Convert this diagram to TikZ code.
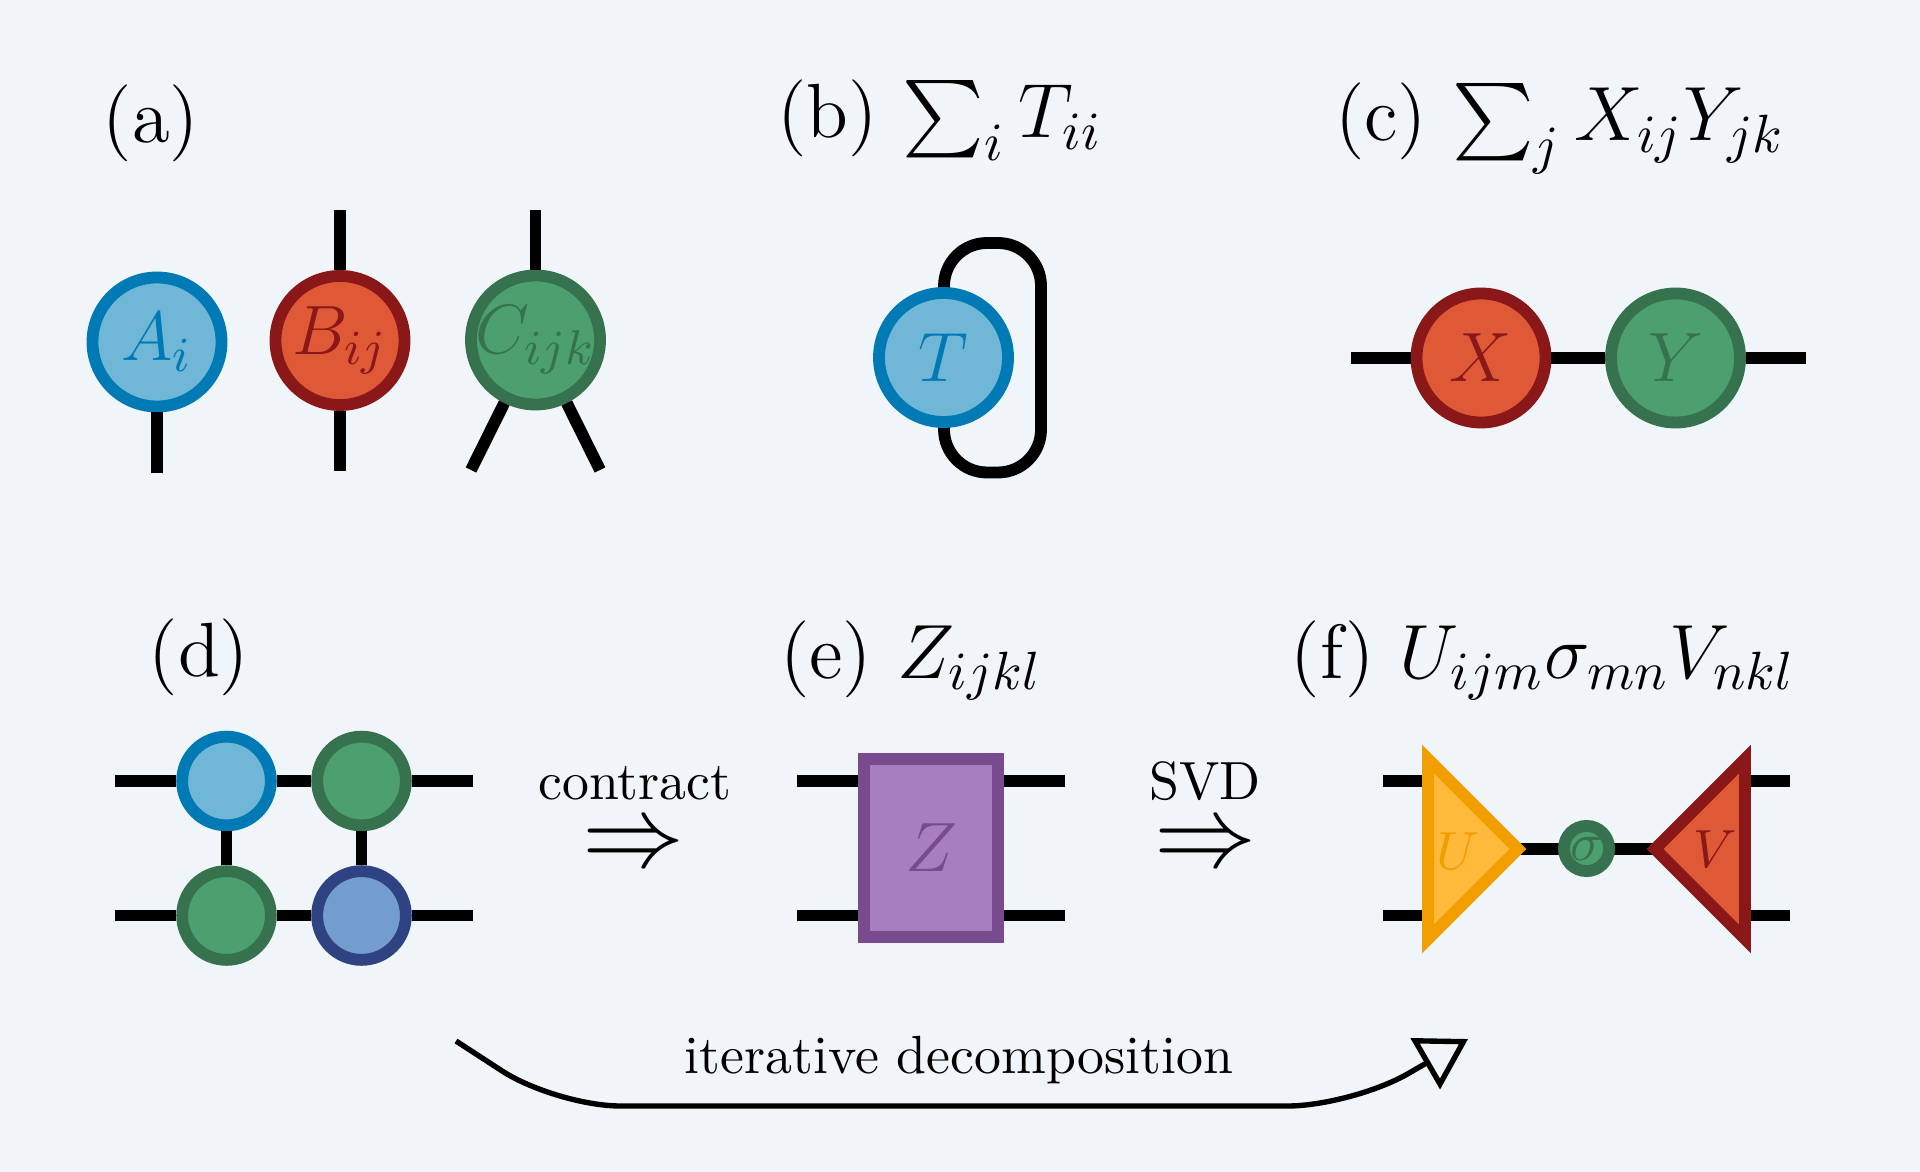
\RequirePackage{fix-cm}
\documentclass[tikz,border=0pt]{standalone}
\usepackage{amsmath}
\usepackage{fontspec}
\usetikzlibrary{arrows.meta}
\definecolor{bg}{HTML}{F0F5FA}
\definecolor{blueF}{HTML}{70B6D6}
\definecolor{blueD}{HTML}{007AB5}
\definecolor{redF}{HTML}{DF5937}
\definecolor{redD}{HTML}{8B1818}
\definecolor{greenF}{HTML}{4C9F6F}
\definecolor{greenD}{HTML}{37724E}
\definecolor{navyF}{HTML}{729DCE}
\definecolor{navyD}{HTML}{2F4282}
\definecolor{purpF}{HTML}{A87FBE}
\definecolor{purpD}{HTML}{784A8E}
\definecolor{orangeF}{HTML}{FFBA3C}
\definecolor{orangeD}{HTML}{F29D00}
\tikzset{
  leg/.style={line width=2.2pt, draw=black},
  tn/.style={circle, line width=2.2pt, inner sep=0pt, minimum size=24pt},
  sn/.style={circle, line width=2.2pt, inner sep=0pt, minimum size=16.5pt},
  titletext/.style={anchor=base, inner sep=0pt, font=\fontsize{14.3}{17}\selectfont},
  lab/.style={inner sep=0pt, font=\fontsize{13}{16}\selectfont},
  smalllab/.style={inner sep=0pt, font=\fontsize{10}{12}\selectfont},
  bodytext/.style={anchor=base, inner sep=0pt, font=\fontsize{10}{12}\selectfont},
  bigarrow/.style={inner sep=0pt, text height=8pt, text depth=0pt, font=\fontsize{19}{22}\selectfont},
  tri/.style={line width=2.2pt, line join=miter},
}
\begin{document}
\begin{tikzpicture}[x=0.186pt, y=-0.186pt]
\fill[bg] (0,0) rectangle (1920,1172);
\useasboundingbox (0,0) rectangle (1920,1172);

% ---------- titles ----------
\node[titletext] (ta) at (151,143) {(a)};
\node[titletext] (tb) at (940,138) {(b) $\sum_i T_{ii}$};
\node[titletext] (tc) at (1560,141) {(c) $\sum_j X_{ij}Y_{jk}$};
\node[titletext] (td) at (199,677) {(d)};
\node[titletext] (te) at (911,678) {(e) $Z_{ijkl}$};
\node[titletext] (tf) at (1543,678) {(f) $U_{ijm}\sigma_{mn}V_{nkl}$};

% ---------- (a) ----------
\node[tn, draw=blueD, fill=blueF] (A) at (157,342) {};
\node[tn, draw=redD, fill=redF] (B) at (340,340.5) {};
\node[tn, draw=greenD, fill=greenF] (C) at (535.5,340) {};
\coordinate (Ab) at (157,473);
\coordinate (Bt) at (340,210);
\coordinate (Bb) at (340,471);
\coordinate (Ct) at (535.5,210);
\coordinate (Cl) at (471,470);
\coordinate (Cr) at (600,470);
\draw[leg] (A) -- (Ab);
\draw[leg] (B) -- (Bt);
\draw[leg] (B) -- (Bb);
\draw[leg] (C) -- (Ct);
\draw[leg] (C) -- (Cl);
\draw[leg] (C) -- (Cr);
\node[lab, text=blueD] (Alab) at (A) {$A_i$};
\node[lab, text=redD] (Blab) at (B) {$B_{ij}$};
\node[lab, text=greenD] (Clab) at (C) {$C_{ijk}$};

% ---------- (b) ----------
\coordinate (Ttl) at (944,243);
\coordinate (Ttr) at (1041,243);
\coordinate (Tbr) at (1041,472.5);
\coordinate (Tbl) at (944,472.5);
\coordinate (Tc) at (944,357.5);
\draw[leg, rounded corners=8pt] (Tc) -- (Ttl) -- (Ttr) -- (Tbr) -- (Tbl) -- (Tc);
\node[tn, draw=blueD, fill=blueF] (T) at (943.5,357.5) {};
\node[lab, text=blueD] (Tlab) at (T) {$T$};

% ---------- (c) ----------
\coordinate (cl) at (1351,358);
\coordinate (cr) at (1806,358);
\node[tn, draw=redD, fill=redF] (X) at (1481,358) {};
\node[tn, draw=greenD, fill=greenF] (Y) at (1675.5,358) {};
\draw[leg] (cl) -- (X);
\draw[leg] (X) -- (Y);
\draw[leg] (Y) -- (cr);
\node[lab, text=redD] (Xlab) at (X) {$X$};
\node[lab, text=greenD] (Ylab) at (Y) {$Y$};

% ---------- (d) ----------
\node[sn, draw=blueD, fill=blueF] (d11) at (226.5,781) {};
\node[sn, draw=greenD, fill=greenF] (d12) at (361.5,781) {};
\node[sn, draw=greenD, fill=greenF] (d21) at (226.5,915.5) {};
\node[sn, draw=navyD, fill=navyF] (d22) at (361.5,915.5) {};
\coordinate (dl1) at (115,781);
\coordinate (dr1) at (473,781);
\coordinate (dl2) at (115,915.5);
\coordinate (dr2) at (473,915.5);
\draw[leg] (dl1) -- (d11);
\draw[leg] (d11) -- (d12);
\draw[leg] (d12) -- (dr1);
\draw[leg] (dl2) -- (d21);
\draw[leg] (d21) -- (d22);
\draw[leg] (d22) -- (dr2);
\draw[leg] (d11) -- (d21);
\draw[leg] (d12) -- (d22);

\node[bodytext] (contract) at (635,799) {contract};
\node[bigarrow] (arr1) at (634,845) {$\Rightarrow$};

% ---------- (e) ----------
\node[draw=purpD, fill=purpF, line width=2.2pt, inner sep=0pt,
      minimum width=24.9pt, minimum height=33.1pt] (Z) at (931,848) {};
\coordinate (el1) at (797,781);
\coordinate (er1) at (1065,781);
\coordinate (el2) at (797,915.5);
\coordinate (er2) at (1065,915.5);
\draw[leg] (el1) -- (el1 -| Z.west);
\draw[leg] (el2) -- (el2 -| Z.west);
\draw[leg] (er1) -- (er1 -| Z.east);
\draw[leg] (er2) -- (er2 -| Z.east);
\node[lab, text=purpD] (Zlab) at (Z) {$Z$};

\node[bodytext] (svd) at (1205,799) {SVD};
\node[bigarrow] (arr2) at (1205.5,845) {$\Rightarrow$};

% ---------- (f) ----------
\coordinate (Ut) at (1428,759);
\coordinate (Ub) at (1428,939);
\coordinate (Up) at (1518,849);
\coordinate (Vt) at (1745,759);
\coordinate (Vb) at (1745,939);
\coordinate (Vp) at (1655,849);
\coordinate (fl1) at (1383,781);
\coordinate (fl2) at (1383,915.5);
\coordinate (fr1) at (1790,781);
\coordinate (fr2) at (1790,915.5);
\draw[leg] (fl1) -- (fl1 -| Ut);
\draw[leg] (fl2) -- (fl2 -| Ut);
\draw[leg] (fr1) -- (fr1 -| Vt);
\draw[leg] (fr2) -- (fr2 -| Vt);
\draw[leg] (Up) -- (Vp);
\draw[tri, draw=orangeD, fill=orangeF] (Ut) -- (Up) -- (Ub) -- cycle;
\draw[tri, draw=redD, fill=redF] (Vt) -- (Vp) -- (Vb) -- cycle;
\node[circle, line width=2.2pt, inner sep=0pt, minimum size=8.4pt,
      draw=greenD, fill=greenF] (sig) at (1586.5,848.5) {};
\node[smalllab, text=greenD] (siglab) at (sig) {$\sigma$};
\node[smalllab, text=orangeD] (Ulab) at (1458,851) {$U$};
\node[smalllab, text=redD] (Vlab) at (1715,849) {$V$};

% ---------- bottom arrow ----------
\coordinate (ia) at (456,1041);
\coordinate (ib) at (556,1106);
\coordinate (ic) at (1352,1106);
\coordinate (id) at (1468,1039);
\draw[line width=1pt, rounded corners=12pt,
      -{Triangle[open, length=9.2pt, width=10.8pt]}]
      (ia) -- (ib) -- (ic) -- (id);
\node[bodytext] (iter) at (959,1073) {iterative decomposition};
\end{tikzpicture}
\end{document}
